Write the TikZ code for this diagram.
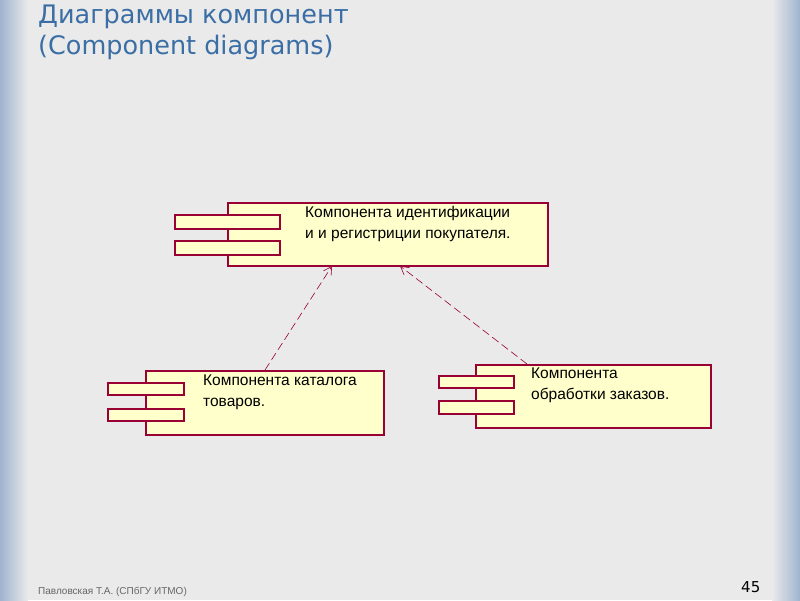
\documentclass[tikz,border=0pt]{standalone}
\usepackage{fontspec}
\setmainfont{Liberation Sans}
\newfontfamily\titlefont{DejaVu Sans}
\usetikzlibrary{arrows.meta}
\definecolor{bg}{HTML}{EAEAEA}
\definecolor{edge}{HTML}{9FB3CF}
\definecolor{bord}{HTML}{990033}
\definecolor{fillc}{HTML}{FFFFCC}
\definecolor{titlec}{HTML}{3A6EA5}
\begin{document}
\begin{tikzpicture}[x=1pt,y=-1pt,
  comp/.style={draw=bord,fill=fillc,line width=1.3pt},
  lbl/.style={anchor=north west,align=left,font=\fontsize{15.5}{21}\selectfont,inner sep=0pt},
  dep/.style={draw=bord,dashed,dash pattern=on 8pt off 4pt,line width=0.6pt,-{Straight Barb[length=8pt,width=9pt]}}]
\useasboundingbox (0,0) rectangle (800,600);
\fill[bg] (0,0) rectangle (800,600);
\shade[left color=edge,right color=bg] (0,0) rectangle (28,600);
\shade[left color=bg,right color=edge] (772,0) rectangle (800,600);
\node[anchor=west,text=titlec,font=\titlefont\fontsize{25.5}{30}\selectfont,inner sep=0pt] (t1) at (38,17) {Диаграммы компонент};
\node[anchor=west,text=titlec,font=\titlefont\fontsize{25.5}{30}\selectfont,inner sep=0pt] (t2) at (38,47) {(Component diagrams)};
% top
\draw[comp] (228,203) rectangle (548,266);
\draw[comp] (175,215) rectangle (280,229);
\draw[comp] (175,241) rectangle (280,255);
\node[lbl] (a) at (305,206) {Компонента идентификации\\и и регистриции покупателя.};
\coordinate (A1) at (332,266); \coordinate (A2) at (400,266);
% left
\draw[comp] (146,371) rectangle (384,435);
\draw[comp] (108,383) rectangle (184,395);
\draw[comp] (108,409) rectangle (184,421);
\node[lbl] (b) at (203,375) {Компонента каталога\\товаров.};
\coordinate (B) at (265,370);
% right
\draw[comp] (476,365) rectangle (711,428);
\draw[comp] (439,376) rectangle (514,388);
\draw[comp] (439,401) rectangle (514,414);
\node[lbl] (c) at (531,368) {Компонента\\обработки заказов.};
\coordinate (C) at (527,364);
\draw[dep] (B) -- (A1);
\draw[dep] (C) -- (A2);
\node[anchor=west,text=gray!80!black,font=\fontsize{10}{12}\selectfont,inner sep=0pt] (f) at (38,592) {Павловская Т.А. (СПбГУ ИТМО)};
\node[anchor=west,font=\titlefont\fontsize{15}{18}\selectfont,inner sep=0pt] (n) at (741,587) {45};
\end{tikzpicture}
\end{document}
